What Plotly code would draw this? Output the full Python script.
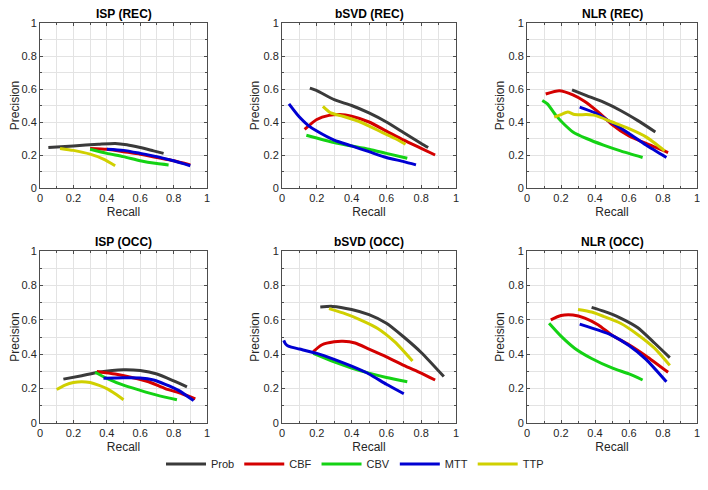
import plotly.graph_objects as go

# Precision-recall curves per method (recall, precision)
panel_titles = ["ISP (REC)", "bSVD (REC)", "NLR (REC)",
                "ISP (OCC)", "bSVD (OCC)", "NLR (OCC)"]
series_names = ["Prob", "CBF", "CBV", "MTT", "TTP"]
series_colors = ["#3a3a3a", "#d40000", "#14d214", "#0000d2", "#d0d000"]

isp_rec_prob_x = [0.05, 0.2, 0.35, 0.45, 0.52, 0.6, 0.68, 0.74]
isp_rec_prob_y = [0.245, 0.255, 0.265, 0.27, 0.262, 0.245, 0.225, 0.21]
isp_rec_cbf_x = [0.3, 0.4, 0.5, 0.6, 0.7, 0.8, 0.9]
isp_rec_cbf_y = [0.24, 0.235, 0.22, 0.205, 0.185, 0.165, 0.14]
isp_rec_cbv_x = [0.3, 0.4, 0.5, 0.6, 0.7, 0.77]
isp_rec_cbv_y = [0.235, 0.21, 0.19, 0.165, 0.148, 0.14]
isp_rec_mtt_x = [0.4, 0.5, 0.6, 0.7, 0.8, 0.9]
isp_rec_mtt_y = [0.235, 0.228, 0.21, 0.19, 0.165, 0.135]
isp_rec_ttp_x = [0.12, 0.2, 0.3, 0.38, 0.45]
isp_rec_ttp_y = [0.24, 0.228, 0.205, 0.175, 0.135]

bsvd_rec_prob_x = [0.16, 0.2, 0.3, 0.4, 0.5, 0.6, 0.7, 0.8, 0.84]
bsvd_rec_prob_y = [0.605, 0.59, 0.535, 0.5, 0.455, 0.4, 0.335, 0.27, 0.245]
bsvd_rec_cbf_x = [0.13, 0.2, 0.27, 0.33, 0.4, 0.5, 0.6, 0.7, 0.8, 0.88]
bsvd_rec_cbf_y = [0.355, 0.415, 0.44, 0.445, 0.435, 0.4, 0.345, 0.29, 0.24, 0.2]
bsvd_rec_cbv_x = [0.14, 0.3, 0.4, 0.5, 0.6, 0.72]
bsvd_rec_cbv_y = [0.32, 0.275, 0.255, 0.235, 0.21, 0.18]
bsvd_rec_mtt_x = [0.04, 0.1, 0.15, 0.2, 0.3, 0.4, 0.5, 0.6, 0.7, 0.77]
bsvd_rec_mtt_y = [0.51, 0.43, 0.38, 0.345, 0.29, 0.255, 0.22, 0.185, 0.16, 0.14]
bsvd_rec_ttp_x = [0.235, 0.28, 0.35, 0.45, 0.55, 0.65, 0.71]
bsvd_rec_ttp_y = [0.495, 0.455, 0.435, 0.4, 0.35, 0.3, 0.265]

nlr_rec_prob_x = [0.265, 0.35, 0.45, 0.55, 0.65, 0.755]
nlr_rec_prob_y = [0.595, 0.56, 0.52, 0.47, 0.41, 0.34]
nlr_rec_cbf_x = [0.11, 0.19, 0.27, 0.34, 0.42, 0.5, 0.6, 0.7, 0.83]
nlr_rec_cbf_y = [0.57, 0.59, 0.565, 0.525, 0.46, 0.385, 0.315, 0.27, 0.215]
nlr_rec_cbv_x = [0.09, 0.12, 0.17, 0.22, 0.27, 0.35, 0.45, 0.55, 0.68]
nlr_rec_cbv_y = [0.53, 0.51, 0.44, 0.385, 0.34, 0.3, 0.26, 0.225, 0.185]
nlr_rec_mtt_x = [0.31, 0.4, 0.5, 0.6, 0.7, 0.82]
nlr_rec_mtt_y = [0.49, 0.455, 0.395, 0.33, 0.26, 0.185]
nlr_rec_ttp_x = [0.16, 0.2, 0.24, 0.28, 0.35, 0.4, 0.5, 0.6, 0.7, 0.81]
nlr_rec_ttp_y = [0.43, 0.445, 0.46, 0.445, 0.445, 0.44, 0.4, 0.36, 0.31, 0.225]

isp_occ_prob_x = [0.14, 0.25, 0.35, 0.5, 0.6, 0.7, 0.8, 0.88]
isp_occ_prob_y = [0.255, 0.275, 0.295, 0.31, 0.305, 0.285, 0.245, 0.21]
isp_occ_cbf_x = [0.34, 0.45, 0.55, 0.65, 0.75, 0.85, 0.93]
isp_occ_cbf_y = [0.3, 0.285, 0.265, 0.24, 0.2, 0.17, 0.14]
isp_occ_cbv_x = [0.33, 0.4, 0.5, 0.6, 0.7, 0.82]
isp_occ_cbv_y = [0.295, 0.26, 0.22, 0.19, 0.162, 0.135]
isp_occ_mtt_x = [0.38, 0.5, 0.6, 0.68, 0.75, 0.83, 0.92]
isp_occ_mtt_y = [0.26, 0.263, 0.262, 0.25, 0.225, 0.19, 0.13]
isp_occ_ttp_x = [0.1, 0.15, 0.2, 0.25, 0.3, 0.35, 0.4, 0.45, 0.5]
isp_occ_ttp_y = [0.195, 0.22, 0.235, 0.24, 0.235, 0.22, 0.2, 0.17, 0.135]

bsvd_occ_prob_x = [0.22, 0.29, 0.4, 0.5, 0.6, 0.7, 0.8, 0.93]
bsvd_occ_prob_y = [0.675, 0.678, 0.66, 0.63, 0.58, 0.5, 0.41, 0.27]
bsvd_occ_cbf_x = [0.18, 0.23, 0.3, 0.35, 0.42, 0.5, 0.6, 0.7, 0.8, 0.88]
bsvd_occ_cbf_y = [0.415, 0.455, 0.472, 0.475, 0.465, 0.43, 0.385, 0.335, 0.29, 0.25]
bsvd_occ_cbv_x = [0.18, 0.3, 0.4, 0.5, 0.6, 0.72]
bsvd_occ_cbv_y = [0.405, 0.355, 0.32, 0.29, 0.265, 0.24]
bsvd_occ_mtt_x = [0.01, 0.02, 0.04, 0.1, 0.2, 0.3, 0.4, 0.5, 0.6, 0.7]
bsvd_occ_mtt_y = [0.48, 0.46, 0.445, 0.43, 0.405, 0.37, 0.33, 0.285, 0.225, 0.17]
bsvd_occ_ttp_x = [0.27, 0.35, 0.45, 0.55, 0.65, 0.75]
bsvd_occ_ttp_y = [0.665, 0.64, 0.6, 0.55, 0.47, 0.36]

nlr_occ_prob_x = [0.38, 0.45, 0.55, 0.65, 0.75, 0.84]
nlr_occ_prob_y = [0.672, 0.65, 0.61, 0.555, 0.465, 0.38]
nlr_occ_cbf_x = [0.14, 0.2, 0.27, 0.34, 0.42, 0.5, 0.6, 0.7, 0.83]
nlr_occ_cbf_y = [0.6, 0.625, 0.628, 0.61, 0.57, 0.51, 0.455, 0.39, 0.295]
nlr_occ_cbv_x = [0.13, 0.2, 0.28, 0.38, 0.5, 0.6, 0.68]
nlr_occ_cbv_y = [0.58, 0.505, 0.435, 0.375, 0.32, 0.285, 0.25]
nlr_occ_mtt_x = [0.31, 0.42, 0.5, 0.6, 0.7, 0.82]
nlr_occ_mtt_y = [0.575, 0.54, 0.51, 0.45, 0.37, 0.24]
nlr_occ_ttp_x = [0.3, 0.38, 0.45, 0.55, 0.65, 0.75, 0.84]
nlr_occ_ttp_y = [0.66, 0.645, 0.62, 0.58, 0.515, 0.435, 0.335]

panels = [
    [(isp_rec_prob_x, isp_rec_prob_y), (isp_rec_cbf_x, isp_rec_cbf_y), (isp_rec_cbv_x, isp_rec_cbv_y),
     (isp_rec_mtt_x, isp_rec_mtt_y), (isp_rec_ttp_x, isp_rec_ttp_y)],
    [(bsvd_rec_prob_x, bsvd_rec_prob_y), (bsvd_rec_cbf_x, bsvd_rec_cbf_y), (bsvd_rec_cbv_x, bsvd_rec_cbv_y),
     (bsvd_rec_mtt_x, bsvd_rec_mtt_y), (bsvd_rec_ttp_x, bsvd_rec_ttp_y)],
    [(nlr_rec_prob_x, nlr_rec_prob_y), (nlr_rec_cbf_x, nlr_rec_cbf_y), (nlr_rec_cbv_x, nlr_rec_cbv_y),
     (nlr_rec_mtt_x, nlr_rec_mtt_y), (nlr_rec_ttp_x, nlr_rec_ttp_y)],
    [(isp_occ_prob_x, isp_occ_prob_y), (isp_occ_cbf_x, isp_occ_cbf_y), (isp_occ_cbv_x, isp_occ_cbv_y),
     (isp_occ_mtt_x, isp_occ_mtt_y), (isp_occ_ttp_x, isp_occ_ttp_y)],
    [(bsvd_occ_prob_x, bsvd_occ_prob_y), (bsvd_occ_cbf_x, bsvd_occ_cbf_y), (bsvd_occ_cbv_x, bsvd_occ_cbv_y),
     (bsvd_occ_mtt_x, bsvd_occ_mtt_y), (bsvd_occ_ttp_x, bsvd_occ_ttp_y)],
    [(nlr_occ_prob_x, nlr_occ_prob_y), (nlr_occ_cbf_x, nlr_occ_cbf_y), (nlr_occ_cbv_x, nlr_occ_cbv_y),
     (nlr_occ_mtt_x, nlr_occ_mtt_y), (nlr_occ_ttp_x, nlr_occ_ttp_y)],
]

tick_vals = [0, 0.2, 0.4, 0.6, 0.8, 1]
tick_text = ["0", "0.2", "0.4", "0.6", "0.8", "1"]

# the page body adds an 8px margin, so the figure is 8px smaller than the window
W, H = 700, 482
OFF = 8
# plot-area boxes in window pixels: (left, right) per column, (top, bottom) per row
col_px = [(40, 207), (282, 456), (527, 697)]
row_px = [(23, 188), (251, 423)]

FONT = "Liberation Sans, Arial, sans-serif"
TEXT = "#262626"

fig = go.Figure()

for i, curves in enumerate(panels):
    r, c = divmod(i, 3)
    xa = "x" if i == 0 else f"x{i + 1}"
    ya = "y" if i == 0 else f"y{i + 1}"
    for k, (xs, ys) in enumerate(curves):
        fig.add_trace(go.Scatter(
            x=xs, y=ys, mode="lines", xaxis=xa, yaxis=ya,
            name=series_names[k], legendgroup=series_names[k], showlegend=(i == 0),
            line=dict(color=series_colors[k], width=3, shape="spline", smoothing=0.6),
        ))

    x0, x1 = col_px[c][0] - OFF, col_px[c][1] - OFF
    t, b = row_px[r][0] - OFF, row_px[r][1] - OFF
    axis_common = dict(
        range=[0, 1], tickvals=tick_vals, ticktext=tick_text, automargin=False,
        showline=True, mirror="ticks", linecolor="#4d4d4d", linewidth=1,
        ticks="inside", ticklen=3, tickcolor="#4d4d4d",
        showgrid=True, gridcolor="#e3e3e3", gridwidth=1, zeroline=False,
        minor=dict(dtick=0.1, showgrid=True, gridcolor="#e3e3e3", ticks="inside",
                   ticklen=2, tickcolor="#4d4d4d"),
        tickfont=dict(family=FONT, size=11, color=TEXT),
        ticklabeloverflow="allow",
        fixedrange=True,
    )
    key = "" if i == 0 else str(i + 1)
    fig.layout["xaxis" + key] = dict(
        axis_common, domain=[x0 / W, x1 / W], anchor=ya,
        title=dict(text="Recall", font=dict(family=FONT, size=12, color=TEXT), standoff=4),
    )
    fig.layout["yaxis" + key] = dict(
        axis_common, domain=[1 - b / H, 1 - t / H], anchor=xa,
        title=dict(text="Precision", font=dict(family=FONT, size=12, color=TEXT), standoff=1),
    )
    fig.add_annotation(
        text=f"<b>{panel_titles[i]}</b>", xref="paper", yref="paper",
        x=(x0 + x1) / 2 / W, y=1 - t / H, xanchor="center", yanchor="bottom",
        yshift=0, showarrow=False, font=dict(family=FONT, size=12, color="#000000"),
    )

fig.update_layout(
    width=W, height=H,
    margin=dict(l=0, r=0, t=0, b=0),
    paper_bgcolor="white", plot_bgcolor="white",
    font=dict(family=FONT, color=TEXT),
    legend=dict(
        orientation="h", x=347 / W, y=1 - (464 - OFF) / H, xanchor="center", yanchor="middle",
        font=dict(family=FONT, size=11, color=TEXT), itemwidth=40,
        bgcolor="rgba(0,0,0,0)",
    ),
)

fig.write_html("out.html")
